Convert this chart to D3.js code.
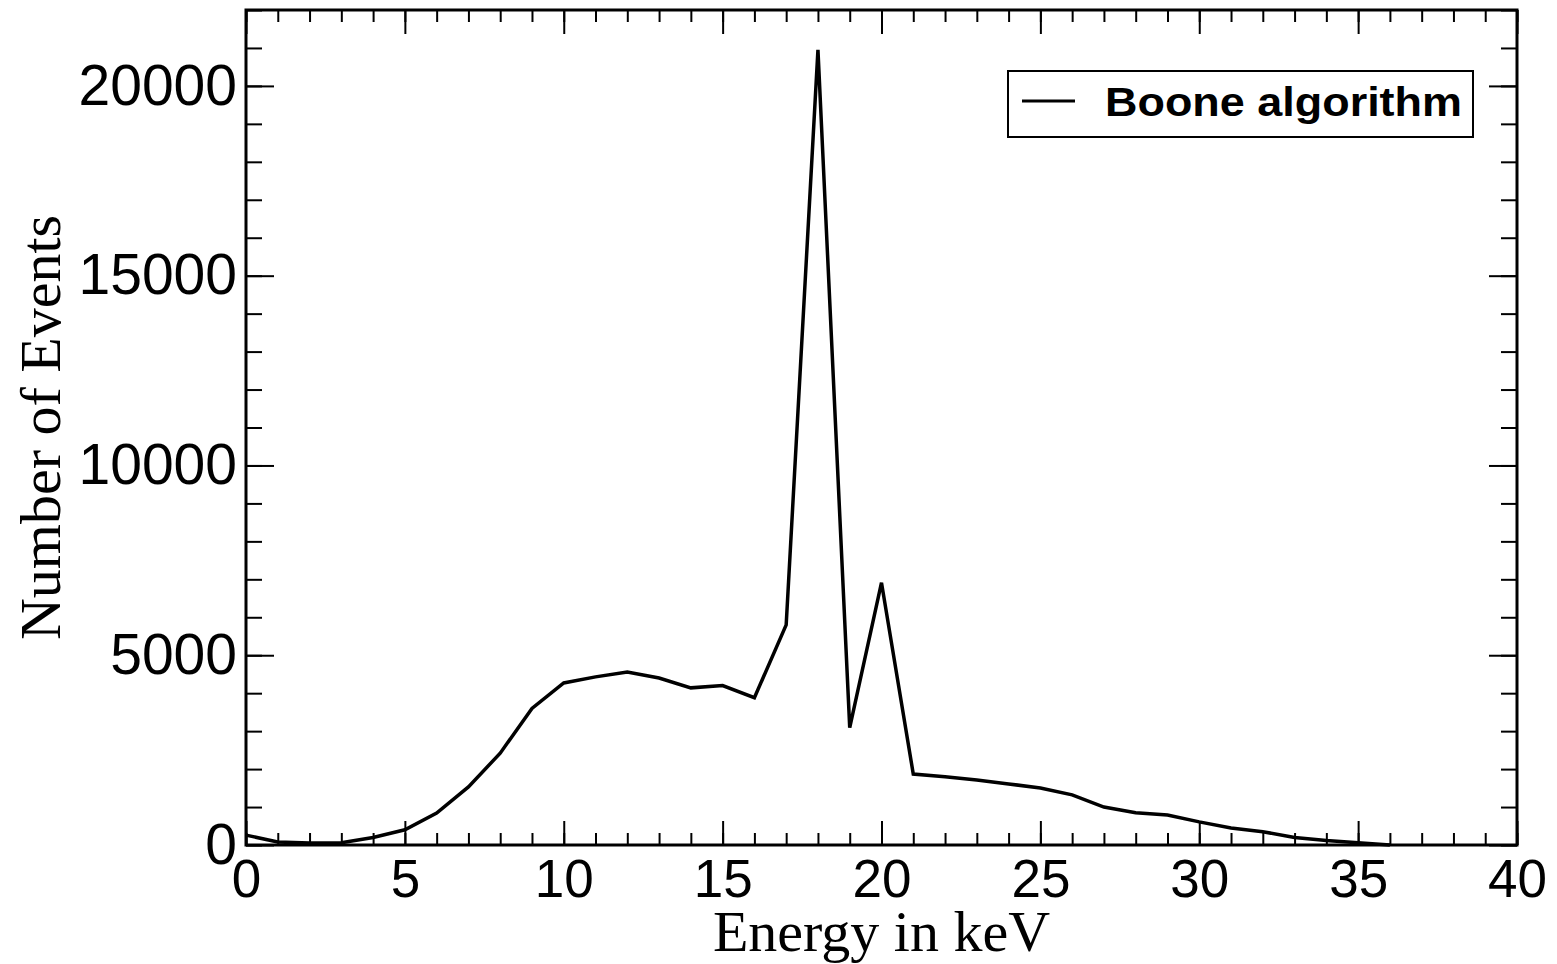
<!DOCTYPE html>
<html>
<head>
<meta charset="utf-8">
<script src="https://cdn.jsdelivr.net/npm/d3@7"></script>
<style>
  body { margin: 0; background: #fff; }
  svg { display: block; }
</style>
</head>
<body>
<svg id="chart"></svg>
<script>
// Spectrum, one point per keV
const energy = d3.range(0, 37);
const events = [260, 80, 50, 60, 200, 400, 840, 1530, 2420, 3600,
                4270, 4430, 4560, 4400, 4140, 4200, 3880, 5800, 20950, 3090,
                6910, 1870, 1800, 1715, 1610, 1500, 1320, 1000, 850, 790,
                610, 450, 350, 200, 120, 60, 0];
const xMajor = [0, 5, 10, 15, 20, 25, 30, 35, 40];
const yMajor = [0, 5000, 10000, 15000, 20000];
const seriesName = 'Boone algorithm';

const W = 1557, H = 964;
const margin = { top: 10, right: 40, bottom: 119, left: 246 };
const width = W - margin.left - margin.right;
const height = H - margin.top - margin.bottom;

const svg = d3.select('#chart').attr('width', W).attr('height', H);
const g = svg.append('g').attr('transform', `translate(${margin.left},${margin.top})`);

const x = d3.scaleLinear().domain([0, 40]).range([0, width]);
const y = d3.scaleLinear().domain([0, 22000]).range([height, 0]);

const sans = 'Liberation Sans, Arial, Helvetica, sans-serif';
const serif = 'Liberation Serif, Times New Roman, serif';

function addAxis(axis, transform) {
  const a = g.append('g').attr('transform', transform || null).call(axis);
  a.select('.domain').remove();
  a.selectAll('.tick line').attr('stroke', '#000').attr('stroke-width', 2);
  return a;
}

// Minor ticks on all four sides, pointing inwards
addAxis(d3.axisBottom(x).tickValues(d3.range(0, 41)).tickSize(-12).tickFormat(''), `translate(0,${height})`);
addAxis(d3.axisTop(x).tickValues(d3.range(0, 41)).tickSize(-12).tickFormat(''));
addAxis(d3.axisLeft(y).tickValues(d3.range(0, 22001, 1000)).tickSize(-16).tickFormat(''));
addAxis(d3.axisRight(y).tickValues(d3.range(0, 22001, 1000)).tickSize(-16).tickFormat(''), `translate(${width},0)`);

// Major ticks with labels
const xAx = addAxis(d3.axisBottom(x).tickValues(xMajor).tickSize(-24).tickPadding(14).tickFormat(d3.format('d')), `translate(0,${height})`);
xAx.selectAll('text').attr('font-family', sans).attr('font-size', 53).attr('fill', '#000');
addAxis(d3.axisTop(x).tickValues(xMajor).tickSize(-24).tickFormat(''));

const yAx = addAxis(d3.axisLeft(y).tickValues(yMajor).tickSize(-28).tickPadding(9).tickFormat(d3.format('d')));
yAx.selectAll('text').attr('font-family', sans).attr('font-size', 57).attr('fill', '#000');
addAxis(d3.axisRight(y).tickValues(yMajor).tickSize(-28).tickFormat(''), `translate(${width},0)`);

// Data line
const line = d3.line().x((d, i) => x(energy[i])).y(d => y(d));
g.append('path')
    .datum(events)
    .attr('fill', 'none')
    .attr('stroke', '#000')
    .attr('stroke-width', 3.5)
    .attr('d', line);

// Frame
g.append('rect')
    .attr('width', width)
    .attr('height', height)
    .attr('fill', 'none')
    .attr('stroke', '#000')
    .attr('stroke-width', 3);

// Axis titles
svg.append('text')
    .attr('x', margin.left + width / 2)
    .attr('y', 951)
    .attr('text-anchor', 'middle')
    .attr('font-family', serif)
    .attr('font-size', 58)
    .text('Energy in keV');

svg.append('text')
    .attr('transform', `translate(60,${margin.top + height / 2}) rotate(-90)`)
    .attr('text-anchor', 'middle')
    .attr('font-family', serif)
    .attr('font-size', 58)
    .text('Number of Events');

// Legend
const leg = svg.append('g').attr('transform', 'translate(1008,71)');
leg.append('rect')
    .attr('width', 465)
    .attr('height', 66)
    .attr('fill', '#fff')
    .attr('stroke', '#000')
    .attr('stroke-width', 2);
leg.append('line')
    .attr('x1', 14).attr('x2', 67)
    .attr('y1', 30).attr('y2', 30)
    .attr('stroke', '#000')
    .attr('stroke-width', 3);
leg.append('text')
    .attr('x', 97)
    .attr('y', 45)
    .attr('font-family', sans)
    .attr('font-weight', 'bold')
    .attr('font-size', 40)
    .attr('textLength', 357)
    .attr('lengthAdjust', 'spacingAndGlyphs')
    .text(seriesName);
</script>
</body>
</html>
